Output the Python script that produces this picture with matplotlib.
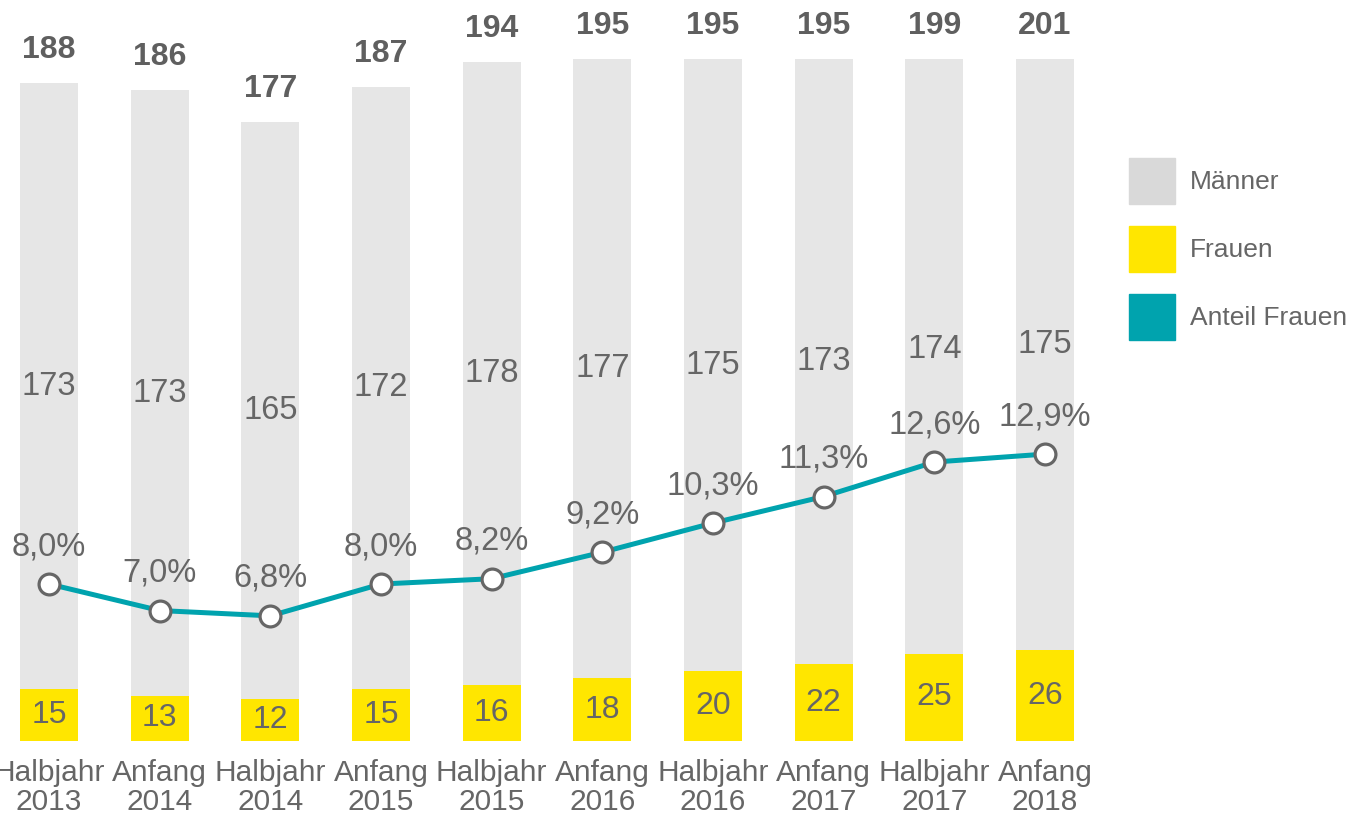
import matplotlib
matplotlib.use('Agg')
import matplotlib.pyplot as plt
from matplotlib.patches import Patch
import numpy as np

plt.rcParams['font.family'] = ['Liberation Sans', 'DejaVu Sans']

# data
labels = ['Halbjahr\n2013', 'Anfang\n2014', 'Halbjahr\n2014', 'Anfang\n2015',
          'Halbjahr\n2015', 'Anfang\n2016', 'Halbjahr\n2016', 'Anfang\n2017',
          'Halbjahr\n2017', 'Anfang\n2018']
maenner = [173, 173, 165, 172, 178, 177, 175, 173, 174, 175]
frauen = [15, 13, 12, 15, 16, 18, 20, 22, 25, 26]
anteil = [8.0, 7.0, 6.8, 8.0, 8.2, 9.2, 10.3, 11.3, 12.6, 12.9]

grey_txt = '#666666'
bar_grey = '#e6e6e6'
legend_grey = '#d9d9d9'
yellow = '#ffe600'
teal = '#00a3ae'

W, H = 1348, 821
fig = plt.figure(figsize=(W / 100, H / 100), dpi=100)
# axes spans x pixels 0..1100, y pixels 59..741
ax = fig.add_axes([0, (H - 741) / H, 1100 / W, (741 - 59) / H])

x = np.arange(len(labels))
totals = np.array(maenner) + np.array(frauen)
ymax = 195
bw = 0.524

ax.bar(x, frauen, width=bw, color=yellow, zorder=2)
ax.bar(x, maenner, width=bw, bottom=frauen, color=bar_grey, zorder=2)

ax.set_xlim(-49 / 110.67, (1100 - 49) / 110.67)
ax.set_ylim(0, ymax)

for i in range(len(x)):
    ax.text(x[i], frauen[i] / 2, str(frauen[i]), ha='center', va='center',
            fontsize=23, color=grey_txt, zorder=3)
    ax.text(x[i], frauen[i] + maenner[i] / 2, str(maenner[i]), ha='center', va='center',
            fontsize=23.5, color=grey_txt, zorder=3)
    ax.annotate(str(totals[i]), (x[i], min(totals[i], ymax)), xytext=(0, 24),
                textcoords='offset points', ha='center', va='center',
                fontsize=23, fontweight='bold', color='#5f5f5f', annotation_clip=False)

ax.set_xticks(x)
ax.set_xticklabels(labels, fontsize=21.5, color=grey_txt, linespacing=1.05)
ax.tick_params(axis='x', length=0, pad=13)
ax.set_yticks([])
for s in ax.spines.values():
    s.set_visible(False)

# percentage line on its own scale
ax2 = ax.twinx()
ax2.set_ylim(2.08, 27.8)
ax2.plot(x, anteil, color=teal, lw=3.6, zorder=4,
         marker='o', ms=15, mfc='white', mec=grey_txt, mew=2.3)
for i in range(len(x)):
    ax2.annotate(f'{anteil[i]:.1f}%'.replace('.', ','), (x[i], anteil[i]), xytext=(0, 27),
                 textcoords='offset points', ha='center', va='center',
                 fontsize=23.5, color=grey_txt)
ax2.set_yticks([])
for s in ax2.spines.values():
    s.set_visible(False)

handles = [Patch(color=legend_grey, label='Männer'),
           Patch(color=yellow, label='Frauen'),
           Patch(color=teal, label='Anteil Frauen')]
fig.legend(handles=handles, loc='upper left', bbox_to_anchor=(1129 / W, 1 - 158 / H),
           frameon=False, fontsize=19, handlelength=1.75, handleheight=2.3,
           handletextpad=0.55, labelspacing=0.83, borderpad=0, borderaxespad=0,
           labelcolor=grey_txt)

fig.savefig('out.png', dpi=100)
